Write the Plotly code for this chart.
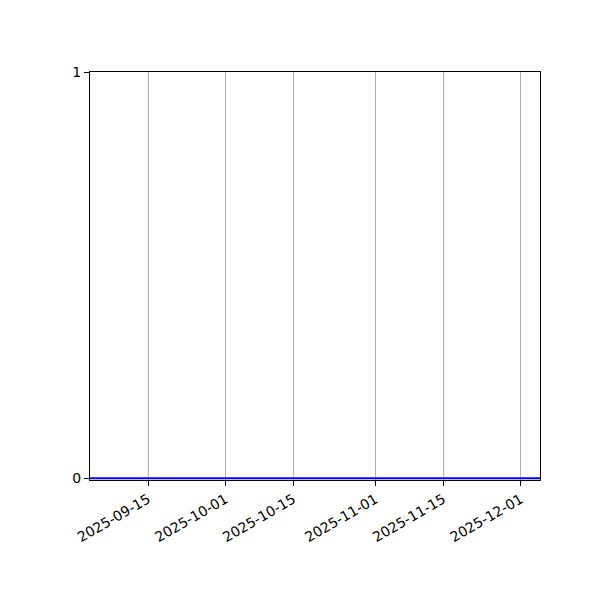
import plotly.graph_objects as go

# series: flat zero line over the whole period
dates = ["2025-09-03", "2025-12-05"]
values = [0, 0]

tick_dates = ["2025-09-15", "2025-10-01", "2025-10-15", "2025-11-01", "2025-11-15", "2025-12-01"]
y_ticks = [0, 1]

fig = go.Figure()
fig.add_trace(go.Scatter(x=dates, y=values, mode="lines",
                         line=dict(color="blue", width=2),
                         showlegend=False))

# page is shifted by the browser's 8px body margin, so margins compensate
fig.update_layout(
    width=600, height=600,
    paper_bgcolor="white", plot_bgcolor="white",
    margin=dict(l=82, r=68, t=64, b=128),
    font=dict(family="DejaVu Sans", size=14, color="black"),
)
fig.update_xaxes(
    type="date", range=[dates[0], dates[-1]],
    tickvals=tick_dates, ticktext=tick_dates, tickangle=-30,
    showgrid=True, gridcolor="#b0b0b0", gridwidth=1,
    showline=True, linecolor="black", linewidth=1, mirror=True,
    ticks="outside", ticklen=5, tickcolor="black", zeroline=False,
    layer="below traces",
)
fig.update_yaxes(
    range=[-0.004, 1], tickvals=y_ticks, showgrid=False,
    showline=True, linecolor="black", linewidth=1, mirror=True,
    ticks="outside", ticklen=5, tickcolor="black", zeroline=False,
)

fig.write_html("out.html")
